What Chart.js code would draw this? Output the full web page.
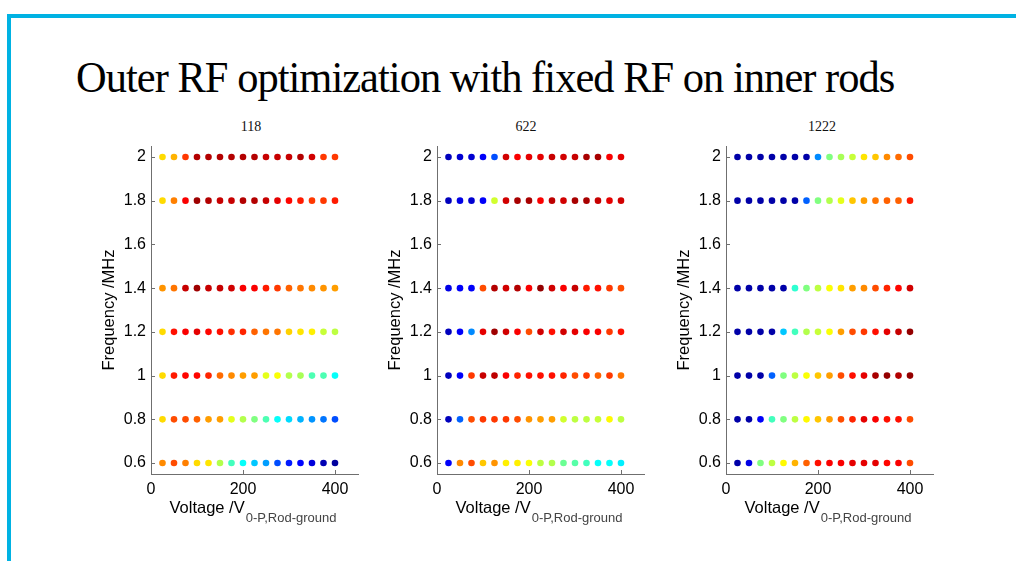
<!DOCTYPE html>
<html>
<head>
<meta charset="utf-8">
<script src="https://cdn.jsdelivr.net/npm/chart.js@4/dist/chart.umd.min.js"></script>
<style>
  html, body { margin:0; padding:0; background:#fff; width:1016px; height:561px; overflow:hidden; }
  #frame { position:absolute; left:7px; top:14px; width:1016px; height:600px;
           border-top:4px solid #00B2E3; border-left:4px solid #00B2E3; box-sizing:border-box; }
  #title { position:absolute; left:76px; top:52px; font-family:"Liberation Serif","Times New Roman",serif;
           font-size:44px; color:#000; white-space:nowrap; line-height:52px; letter-spacing:-1px;
           transform:scaleX(0.965); transform-origin:left top; }
  .ptitle { position:absolute; top:118px; width:100px; margin-left:-50px; text-align:center;
            font-family:"Liberation Serif","Times New Roman",serif; font-size:14px; color:#111; line-height:18px; }
  canvas.panel { position:absolute; }
</style>
</head>
<body>
<div id="frame"></div>
<div id="title">Outer RF optimization with fixed RF on inner rods</div>

<script>
// ---------------- data ----------------
const voltages = [25, 50, 75, 100, 125, 150, 175, 200, 225, 250, 275, 300, 325, 350, 375, 400];
const frequencies = [0.6, 0.8, 1.0, 1.2, 1.4, 1.8, 2.0];
const xTickValues = [0, 200, 400];
const yTickValues = [0.6, 0.8, 1, 1.2, 1.4, 1.6, 1.8, 2];
const panelTitles = ['118', '622', '1222'];

// colour-scale value (0..1, jet) of each point; rows follow `frequencies`
const values118 = [
  [0.74,0.80,0.75,0.66,0.65,0.55,0.44,0.38,0.32,0.28,0.20,0.15,0.13,0.09,0.05,0.03],
  [0.66,0.80,0.80,0.78,0.72,0.72,0.60,0.55,0.50,0.45,0.38,0.34,0.30,0.27,0.24,0.20],
  [0.66,0.85,0.87,0.87,0.84,0.77,0.74,0.72,0.72,0.60,0.62,0.55,0.54,0.45,0.45,0.38],
  [0.66,0.86,0.88,0.90,0.87,0.86,0.83,0.84,0.78,0.76,0.76,0.67,0.65,0.64,0.57,0.56],
  [0.73,0.76,0.93,0.97,0.93,0.93,0.92,0.88,0.88,0.85,0.82,0.78,0.76,0.74,0.73,0.72],
  [0.66,0.75,0.88,0.97,0.95,0.93,0.93,0.95,0.95,0.93,0.90,0.87,0.85,0.82,0.82,0.85],
  [0.66,0.70,0.82,0.95,0.95,0.95,0.95,0.95,0.95,0.93,0.93,0.93,0.95,0.92,0.82,0.82]
];
const values622 = [
  [0.12,0.74,0.80,0.68,0.73,0.64,0.64,0.62,0.56,0.55,0.48,0.46,0.44,0.38,0.38,0.36],
  [0.06,0.22,0.80,0.82,0.82,0.82,0.80,0.73,0.72,0.72,0.58,0.56,0.56,0.57,0.63,0.56],
  [0.06,0.12,0.82,0.93,0.94,0.88,0.84,0.86,0.86,0.86,0.84,0.80,0.82,0.78,0.82,0.76],
  [0.06,0.12,0.26,0.90,0.97,0.92,0.88,0.80,0.92,0.86,0.92,0.90,0.88,0.88,0.82,0.86],
  [0.10,0.12,0.12,0.80,0.95,0.92,0.95,0.88,0.98,0.92,0.88,0.93,0.85,0.86,0.82,0.80],
  [0.06,0.10,0.08,0.12,0.58,0.92,0.96,0.96,0.88,0.94,0.92,0.96,0.96,0.93,0.90,0.92],
  [0.06,0.08,0.08,0.12,0.20,0.92,0.88,0.90,0.90,0.93,0.92,0.93,0.96,0.96,0.88,0.90]
];
const values1222 = [
  [0.04,0.10,0.50,0.56,0.63,0.70,0.78,0.86,0.88,0.88,0.90,0.90,0.90,0.87,0.88,0.80],
  [0.04,0.04,0.12,0.44,0.50,0.56,0.63,0.68,0.72,0.80,0.84,0.90,0.88,0.86,0.86,0.80],
  [0.04,0.04,0.04,0.22,0.50,0.56,0.62,0.68,0.72,0.80,0.86,0.90,0.96,0.98,0.95,0.98],
  [0.04,0.04,0.04,0.04,0.32,0.44,0.55,0.57,0.62,0.72,0.80,0.82,0.86,0.90,0.93,0.98],
  [0.04,0.04,0.04,0.04,0.04,0.42,0.50,0.56,0.62,0.65,0.72,0.74,0.80,0.84,0.87,0.92],
  [0.04,0.04,0.04,0.04,0.04,0.04,0.22,0.50,0.55,0.60,0.68,0.72,0.76,0.78,0.78,0.85],
  [0.04,0.04,0.04,0.04,0.04,0.04,0.04,0.26,0.50,0.54,0.57,0.65,0.68,0.74,0.77,0.80]
];
const panelValues = [values118, values622, values1222];

// ---------------- styling / layout ----------------
const axisLeftPx = [151, 437, 726];      // where each panel's y-axis sits on the page
const titleCenterPx = [251, 526, 822];   // panel-title centres on the page
const plotTop = 146, plotBottom = 474, plotWidth = 207;
const yAxisW = 70, canvasTop = 140, canvasH = 400, canvasW = 290;

function jet(v) {
  const c = t => Math.max(0, Math.min(1, t));
  const r = c(1.5 - Math.abs(4 * v - 3));
  const g = c(1.5 - Math.abs(4 * v - 2));
  const b = c(1.5 - Math.abs(4 * v - 1));
  return `rgb(${Math.round(r*255)},${Math.round(g*255)},${Math.round(b*255)})`;
}

const AX_COLOR = '#6f6f6f';
const SANS = '"Liberation Sans", Arial, sans-serif';

const decorPlugin = {
  id: 'decor',
  afterDraw(chart) {
    const {ctx, chartArea: a, scales: {x, y}} = chart;
    ctx.save();
    // inward tick marks
    ctx.strokeStyle = AX_COLOR; ctx.lineWidth = 1;
    ctx.beginPath();
    xTickValues.forEach(v => { const px = Math.round(x.getPixelForValue(v)) + 0.5; ctx.moveTo(px, a.bottom); ctx.lineTo(px, a.bottom - 4); });
    yTickValues.forEach(v => { const py = Math.round(y.getPixelForValue(v)) + 0.5; ctx.moveTo(a.left, py); ctx.lineTo(a.left + 4, py); });
    ctx.stroke();
    // y-axis title
    ctx.fillStyle = '#000';
    ctx.font = '16.5px ' + SANS;
    ctx.textAlign = 'center'; ctx.textBaseline = 'middle';
    ctx.translate(a.left - 42, (a.top + a.bottom) / 2);
    ctx.rotate(-Math.PI / 2);
    ctx.fillText('Frequency /MHz', 0, 0);
    ctx.restore();
    // x-axis title with subscript
    ctx.save();
    const main = 'Voltage /V', sub = '0-P,Rod-ground';
    ctx.font = '16.5px ' + SANS; const w1 = ctx.measureText(main).width;
    ctx.font = '13px ' + SANS; const w2 = ctx.measureText(sub).width;
    const cx = (a.left + a.right) / 2;
    const sx = cx - (w1 + w2) / 2 - 2;
    ctx.textAlign = 'left'; ctx.textBaseline = 'alphabetic';
    ctx.fillStyle = '#000'; ctx.font = '16.5px ' + SANS;
    ctx.fillText(main, sx, a.bottom + 39);
    ctx.fillStyle = '#444'; ctx.font = '13px ' + SANS;
    ctx.fillText(sub, sx + w1 + 1, a.bottom + 48);
    ctx.restore();
  }
};

panelValues.forEach((vals, p) => {
  const t = document.createElement('div');
  t.className = 'ptitle'; t.style.left = titleCenterPx[p] + 'px'; t.textContent = panelTitles[p];
  document.body.appendChild(t);

  const cv = document.createElement('canvas');
  cv.className = 'panel';
  cv.width = canvasW; cv.height = canvasH;
  cv.style.left = (axisLeftPx[p] - yAxisW) + 'px';
  cv.style.top = canvasTop + 'px';
  cv.style.width = canvasW + 'px'; cv.style.height = canvasH + 'px';
  document.body.appendChild(cv);

  const pts = [], cols = [];
  frequencies.forEach((f, i) => voltages.forEach((v, j) => { pts.push({x: v, y: f}); cols.push(jet(vals[i][j])); }));

  new Chart(cv, {
    type: 'scatter',
    data: { datasets: [{ data: pts, backgroundColor: cols, borderWidth: 0, pointRadius: 3.3, pointHoverRadius: 3.3 }] },
    options: {
      responsive: false, animation: false, devicePixelRatio: 1,
      layout: { padding: { top: plotTop - canvasTop, right: canvasW - yAxisW - plotWidth, left: 0, bottom: 0 } },
      plugins: { legend: { display: false }, tooltip: { enabled: false }, title: { display: false } },
      scales: {
        x: {
          type: 'linear', min: 0, max: 450,
          afterBuildTicks: s => { s.ticks = xTickValues.map(v => ({value: v})); },
          afterFit: s => { s.height = canvasTop + canvasH - plotBottom; s.paddingLeft = 0; s.paddingRight = 0; },
          grid: { display: false, drawTicks: false },
          border: { display: true, color: AX_COLOR, width: 1 },
          ticks: { color: '#000', font: { family: SANS, size: 16 }, padding: 6, maxRotation: 0, autoSkip: false,
                   callback: v => String(v) }
        },
        y: {
          type: 'linear', min: 0.55, max: 2.05,
          afterBuildTicks: s => { s.ticks = yTickValues.map(v => ({value: v})); },
          afterFit: s => { s.width = yAxisW; s.paddingTop = 0; s.paddingBottom = 0; },
          grid: { display: false, drawTicks: false },
          border: { display: true, color: AX_COLOR, width: 1 },
          ticks: { color: '#000', font: { family: SANS, size: 16 }, padding: 5, autoSkip: false,
                   callback: v => String(Number(v.toFixed(1))) }
        }
      }
    },
    plugins: [decorPlugin]
  });
});
</script>
</body>
</html>
